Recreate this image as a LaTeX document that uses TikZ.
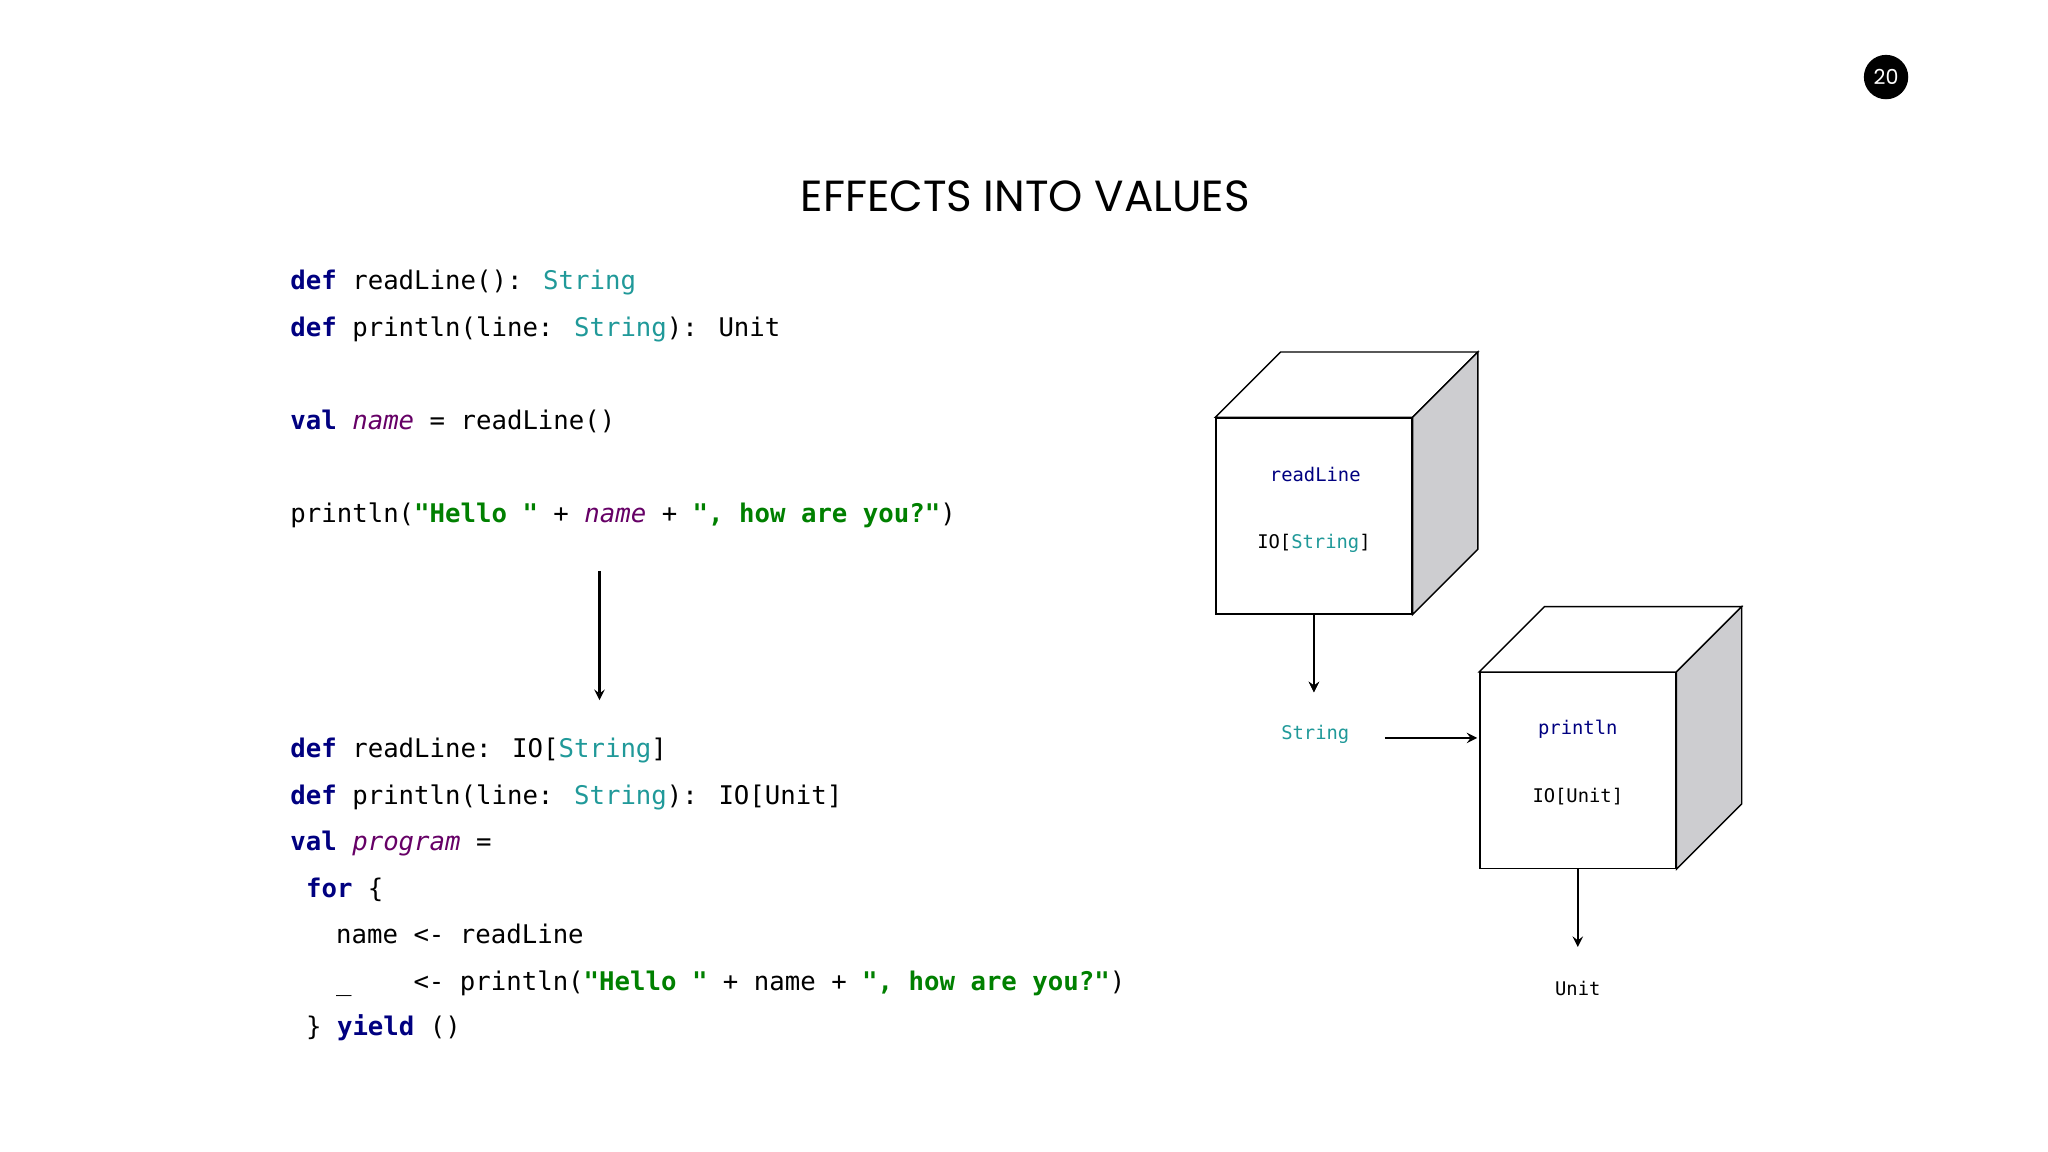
\documentclass[tikz,border=0pt]{standalone}
\usepackage{fontspec}
\setmainfont{Poppins}
\newfontfamily\codefont{DejaVu Sans Mono}
\usetikzlibrary{positioning}
\definecolor{kwblue}{RGB}{0,0,128}
\definecolor{tyteal}{RGB}{32,153,153}
\definecolor{stgreen}{RGB}{0,128,0}
\definecolor{nmpurple}{RGB}{102,0,102}
\definecolor{sidegrey}{RGB}{205,205,208}
\newcommand{\kw}[1]{\textcolor{kwblue}{\bfseries #1}}
\newcommand{\ty}[1]{\textcolor{tyteal}{#1}}
\newcommand{\st}[1]{\textcolor{stgreen}{\bfseries #1}}
\newcommand{\nm}[1]{\textcolor{nmpurple}{\itshape #1}}
\tikzset{
  code/.style={anchor=base west,inner sep=0pt,font=\codefont\fontsize{11.2}{13}\selectfont},
  small/.style={inner sep=0pt,font=\codefont\fontsize{8.2}{10}\selectfont},
  face/.style={draw,line width=0.6pt,fill=white,minimum size=3cm,inner sep=0pt},
  arr/.style={-stealth,line width=1pt}
}
\begin{document}
\begin{tikzpicture}[x=0.02cm,y=-0.02cm]
\useasboundingbox (0,0) rectangle (1568,882);
% page number and title
\node[circle,fill=black,minimum size=0.68cm,inner sep=0pt,text=white,font=\fontsize{9}{10}\selectfont] (pg) at (1444,59) {20};
\node[font=\fontsize{19}{22}\selectfont] (title) at (785,150) {EFFECTS INTO VALUES};
% effectful code
\node[code] (l1) at (222,222) {\kw{def} readLine(): \ty{String}};
\node[code] (l2) at (222,258) {\kw{def} println(line: \ty{String}): Unit};
\node[code] (l3) at (222,329) {\kw{val} \nm{name} = readLine()};
\node[code] (l4) at (222,400) {println(\st{"Hello "} + \nm{name} + \st{", how are you?"})};
\coordinate (top) at (459,437);
\coordinate (bot) at (459,536);
\draw[arr] (top) -- (bot);
% pure code
\node[code] (m1) at (222,580) {\kw{def} readLine: IO[\ty{String}]};
\node[code] (m2) at (222,616) {\kw{def} println(line: \ty{String}): IO[Unit]};
\node[code] (m3) at (222,651) {\kw{val} \nm{program} =};
\node[code] (m4) at (234,687) {\kw{for} \{};
\node[code] (m5) at (257,722) {name <- readLine};
\node[code] (m6) at (257,758) {\_~~~~<- println(\st{"Hello "} + name + \st{", how are you?"})};
\node[code] (m7) at (234,793) {\} \kw{yield} ()};
% cubes
\foreach \c/\x/\y in {cubeA/1006/395,cubeB/1208/590}{
  \node[face] (\c) at (\x,\y) {};
  \draw[line width=0.6pt,fill=white] (\c.north west) -- ++(50,-50) -- ++(150,0) -- ([shift={(50,-50)}]\c.north east) -- (\c.north east) -- cycle;
  \draw[line width=0.6pt,fill=sidegrey] (\c.north east) -- ++(50,-50) -- ++(0,150) -- ([shift={(50,-50)}]\c.south east) -- (\c.south east) -- cycle;
}
\node[small,text=kwblue] (rl) at (1007,363) {readLine};
\node[small] (rlt) at (1006,416) {IO[\ty{String}]};
\node[small,text=kwblue] (pl) at (1208,558) {println};
\node[small] (plt) at (1208,610) {IO[Unit]};
\node[small,text=tyteal] (str) at (1007,562) {String};
\node[small] (unit) at (1208,757) {Unit};
\coordinate (strin) at (1006,530);
\coordinate (unitin) at (1208,725);
\draw[arr] (cubeA) ++(0,75) -- (strin);
\draw[arr] (cubeA.south) -- (strin);
\draw[arr] (str.east) ++(27,3) -- (1131,565);
\draw[arr] (cubeB.south) -- (unitin);
\end{tikzpicture}
\end{document}
